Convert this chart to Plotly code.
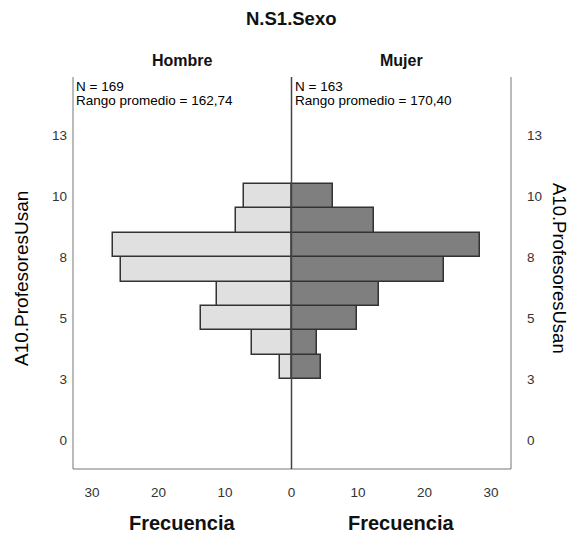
import plotly.graph_objects as go

# Histogram bins of A10.ProfesoresUsan (bin centres) and frequencies per sex
bins = [3, 4, 5, 6, 7, 8, 9, 10]
hombre = [1.7, 5.9, 13.6, 11.2, 25.7, 26.8, 8.3, 7.1]
mujer = [4.4, 3.8, 9.8, 13.1, 22.9, 28.4, 12.4, 6.2]

x_tickvals = [-30, -20, -10, 0, 10, 20, 30]
x_ticktext = ["30", "20", "10", "0", "10", "20", "30"]
y_tickvals = [0, 2.5, 5, 7.5, 10, 12.5]
y_ticktext = ["0", "3", "5", "8", "10", "13"]

W, H = 571, 534
L, R, T, B = 73, 60, 77, 65
PW, PH = W - L - R, H - T - B
FONT = "Liberation Sans, Arial, sans-serif"


def px(x):
    return (x - L) / PW


def py(y):
    return (H - B - y) / PH


y_range = [-1.19, 14.89]

fig = go.Figure()
fig.add_trace(go.Bar(
    y=bins, x=[-v for v in hombre], orientation="h", width=1,
    marker=dict(color="#e0e0e0", line=dict(color="#333333", width=1.5)),
    name="Hombre", hovertext=[str(v) for v in hombre], yaxis="y",
))
fig.add_trace(go.Bar(
    y=bins, x=mujer, orientation="h", width=1,
    marker=dict(color="#7f7f7f", line=dict(color="#333333", width=1.5)),
    name="Mujer", yaxis="y2",
))

tickfont = dict(family=FONT, size=13.5, color="#333333")
fig.update_layout(
    width=W, height=H,
    margin=dict(l=L, r=R, t=T, b=B),
    paper_bgcolor="white", plot_bgcolor="white",
    showlegend=False, barmode="overlay", bargap=0,
    xaxis=dict(range=[-32.85, 33.0], tickvals=x_tickvals, ticktext=x_ticktext,
               showgrid=False, zeroline=False, showline=False, ticks="",
               tickfont=tickfont, ticklabelstandoff=13, fixedrange=True),
    yaxis=dict(range=y_range, tickvals=y_tickvals, ticktext=y_ticktext,
               showgrid=False, zeroline=False, showline=False, ticks="",
               tickfont=tickfont, ticklabelstandoff=5),
    yaxis2=dict(range=y_range, tickvals=y_tickvals, ticktext=y_ticktext,
                overlaying="y", side="right",
                showgrid=False, zeroline=False, showline=False, ticks="",
                tickfont=tickfont, ticklabelstandoff=15),
)

# Frame: left, right and bottom borders, plus the central divider
frame = dict(type="line", xref="paper", yref="paper",
             line=dict(color="#777777", width=1))
fig.add_shape(**frame, x0=0, x1=0, y0=0, y1=1)
fig.add_shape(**frame, x0=1, x1=1, y0=0, y1=1)
fig.add_shape(**frame, x0=0, x1=1, y0=0, y1=0)
fig.add_shape(type="line", xref="x", yref="paper", x0=0, x1=0, y0=0, y1=1,
              line=dict(color="#444444", width=1.5), layer="above")

ann = []


def text(s, x, y, size, bold=False, xanchor="center", angle=0, color="#111111"):
    ann.append(dict(text=f"<b>{s}</b>" if bold else s, x=px(x), y=py(y),
                    xref="paper", yref="paper", showarrow=False,
                    xanchor=xanchor, yanchor="middle", textangle=angle,
                    font=dict(family=FONT, size=size, color=color)))


text("N.S1.Sexo", 291, 18, 18.5, bold=True)
text("Hombre", 182, 61, 16, bold=True)
text("Mujer", 401, 61, 16, bold=True)
text("N = 169", 74, 87, 13.5, xanchor="left", color="#000000")
text("Rango promedio = 162,74", 74, 101, 13.5, xanchor="left", color="#000000")
text("N = 163", 293, 87, 13.5, xanchor="left", color="#000000")
text("Rango promedio = 170,40", 293, 101, 13.5, xanchor="left", color="#000000")
text("Frecuencia", 182, 523, 20, bold=True)
text("Frecuencia", 401, 523, 20, bold=True)
text("A10.ProfesoresUsan", 21, 279, 19, angle=-90, color="#000000")
text("A10.ProfesoresUsan", 560, 268, 18.5, angle=90, color="#000000")
fig.update_layout(annotations=ann)

fig.write_html("out.html")
